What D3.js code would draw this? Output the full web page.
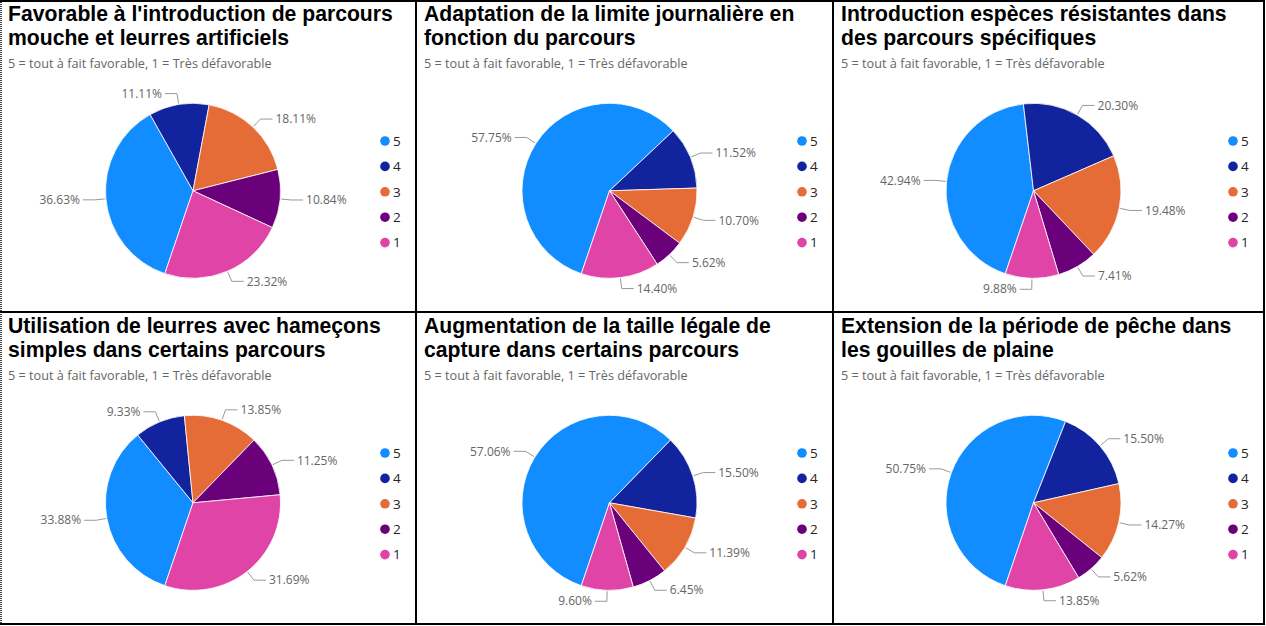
<!DOCTYPE html>
<html>
<head>
<meta charset="utf-8">
<script src="https://cdn.jsdelivr.net/npm/d3@7"></script>
<style>
  body { margin: 0; background: #fff; }
  svg { display: block; }
  .title { font-family: "Liberation Sans", Arial, sans-serif; font-weight: 700; fill: #000; }
  .subtitle { font-family: "Open Sans", "Noto Sans", sans-serif; fill: #666; }
  .lbl { font-family: "Open Sans", "Noto Sans", sans-serif; fill: #666; }
  .leg { font-family: "Open Sans", "Noto Sans", sans-serif; fill: #252423; }
</style>
</head>
<body>
<svg id="chart" width="1266" height="626"></svg>
<script>
// categories and colours (Power BI default palette)
const ratings = ["5", "4", "3", "2", "1"];
const ratingColors = ["#118DFF", "#12239E", "#E66C37", "#6B007B", "#E044A7"];
const subtitle = "5 = tout à fait favorable, 1 = Très défavorable";

// titles, two lines each
const titles = [
  ["Favorable à l'introduction de parcours", "mouche et leurres artificiels"],
  ["Adaptation de la limite journalière en", "fonction du parcours"],
  ["Introduction espèces résistantes dans", "des parcours spécifiques"],
  ["Utilisation de leurres avec hameçons", "simples dans certains parcours"],
  ["Augmentation de la taille légale de", "capture dans certains parcours"],
  ["Extension de la période de pêche dans", "les gouilles de plaine"]
];

// percentages in the order 5,4,3,2,1
const parcoursMouche    = [36.63, 11.11, 18.11, 10.84, 23.32];
const limiteJournaliere = [57.75, 11.52, 10.70, 5.62, 14.40];
const especesResist     = [42.94, 20.30, 19.48, 7.41, 9.88];
const hameconsSimples   = [33.88, 9.33, 13.85, 11.25, 31.69];
const tailleLegale      = [57.06, 15.50, 11.39, 6.45, 9.60];
const periodeGouilles   = [50.75, 15.50, 14.27, 5.62, 13.85];

const series = [parcoursMouche, limiteJournaliere, especesResist,
                hameconsSimples, tailleLegale, periodeGouilles];

var svg = d3.select("#chart");

// grid of panels
var colEdges = [0, 416, 833, 1264];
var rowEdges = [0, 312, 624];

var color = d3.scaleOrdinal().domain(ratings).range(ratingColors);

var radius = 87.5;
var startDeg = 198.8;
var pie = d3.pie()
    .sort(null)
    .value(d => d.value)
    .startAngle(startDeg * Math.PI / 180)
    .endAngle((startDeg + 360) * Math.PI / 180);
var arc = d3.arc().innerRadius(0).outerRadius(radius);

var lineGap = 23.8;
// title size: fit first title line to the width seen in the picture,
// but keep the line box below the line spacing
var probe = svg.append("text").attr("class", "title").attr("font-size", 19).text(titles[0][0]);
var titleSize = 19 * 400 / probe.node().getComputedTextLength();
var boxRatio = probe.node().getBBox().height / 19;
titleSize = Math.min(titleSize, (lineGap - 0.4) / boxRatio);
probe.remove();
var probe2 = svg.append("text").attr("class", "subtitle").attr("font-size", 12).text(subtitle);
var subSize = 12 * 264 / probe2.node().getComputedTextLength();
probe2.remove();

series.forEach(function(values, i){
    var col = i % 3, row = Math.floor(i / 3);
    var x0 = colEdges[col], x1 = colEdges[col + 1];
    var y0 = rowEdges[row];
    var w = x1 - x0;

    var g = svg.append("g").attr("transform", "translate(" + x0 + "," + y0 + ")");

    // title + subtitle
    g.append("text").attr("class", "title")
        .attr("x", 8).attr("y", 21)
        .attr("font-size", titleSize)
        .text(titles[i][0]);
    g.append("text").attr("class", "title")
        .attr("x", 8).attr("y", 21 + lineGap)
        .attr("font-size", titleSize)
        .text(titles[i][1]);
    g.append("text").attr("class", "subtitle")
        .attr("x", 8).attr("y", 67.5)
        .attr("font-size", subSize)
        .text(subtitle);

    var data = ratings.map((r, k) => ({rating: r, value: values[k]}));
    var cx = (w - 30) / 2, cy = 190.8;
    var pg = g.append("g").attr("transform", "translate(" + cx + "," + cy + ")");

    var arcs = pie(data);
    pg.selectAll("path.slice")
        .data(arcs)
        .enter()
        .append("path")
        .attr("class", "slice")
        .attr("d", arc)
        .attr("fill", d => color(d.data.rating))
        .attr("stroke", "#fff")
        .attr("stroke-width", 0.8);

    // leader lines and labels
    arcs.forEach(function(d){
        var mid = (d.startAngle + d.endAngle) / 2;
        var sx = Math.sin(mid), sy = -Math.cos(mid);
        var side = sx >= 0 ? 1 : -1;
        var p1 = [(radius + 1) * sx, (radius + 1) * sy];
        var p2 = [(radius + 11) * sx, (radius + 11) * sy];
        var p3 = [p2[0] + side * 12, p2[1]];
        pg.append("polyline")
            .attr("points", [p1, p2, p3].map(p => p.join(",")).join(" "))
            .attr("fill", "none")
            .attr("stroke", "#999")
            .attr("stroke-width", 1);
        pg.append("text").attr("class", "lbl")
            .attr("x", p3[0] + side * 3)
            .attr("y", p3[1])
            .attr("dy", "0.35em")
            .attr("font-size", 12)
            .attr("text-anchor", side > 0 ? "start" : "end")
            .text(d.data.value.toFixed(2) + "%");
    });

    // legend
    var leg = g.append("g").attr("transform", "translate(" + (w - 31) + ",141)");
    var items = leg.selectAll("g")
        .data(ratings)
        .enter()
        .append("g")
        .attr("transform", (d, k) => "translate(0," + (k * 25.4) + ")");
    items.append("circle").attr("r", 4.8).attr("fill", d => color(d));
    items.append("text").attr("class", "leg")
        .attr("x", 8).attr("dy", "0.36em")
        .attr("font-size", 13.5)
        .text(d => d);
});

// panel borders
var lines = svg.append("g").attr("stroke", "#000").attr("stroke-width", 2);
colEdges.slice(1).forEach(function(x){
    lines.append("line").attr("x1", x).attr("x2", x).attr("y1", 0).attr("y2", rowEdges[2]);
});
rowEdges.forEach(function(y){
    lines.append("line").attr("x1", 0).attr("x2", colEdges[3] + 1).attr("y1", y + (y === 0 ? 1 : 0)).attr("y2", y + (y === 0 ? 1 : 0));
});
lines.append("line").attr("x1", 1).attr("x2", 1).attr("y1", 0).attr("y2", rowEdges[2])
    .attr("stroke-dasharray", "1,1").attr("stroke-width", 1.5);
</script>
</body>
</html>
